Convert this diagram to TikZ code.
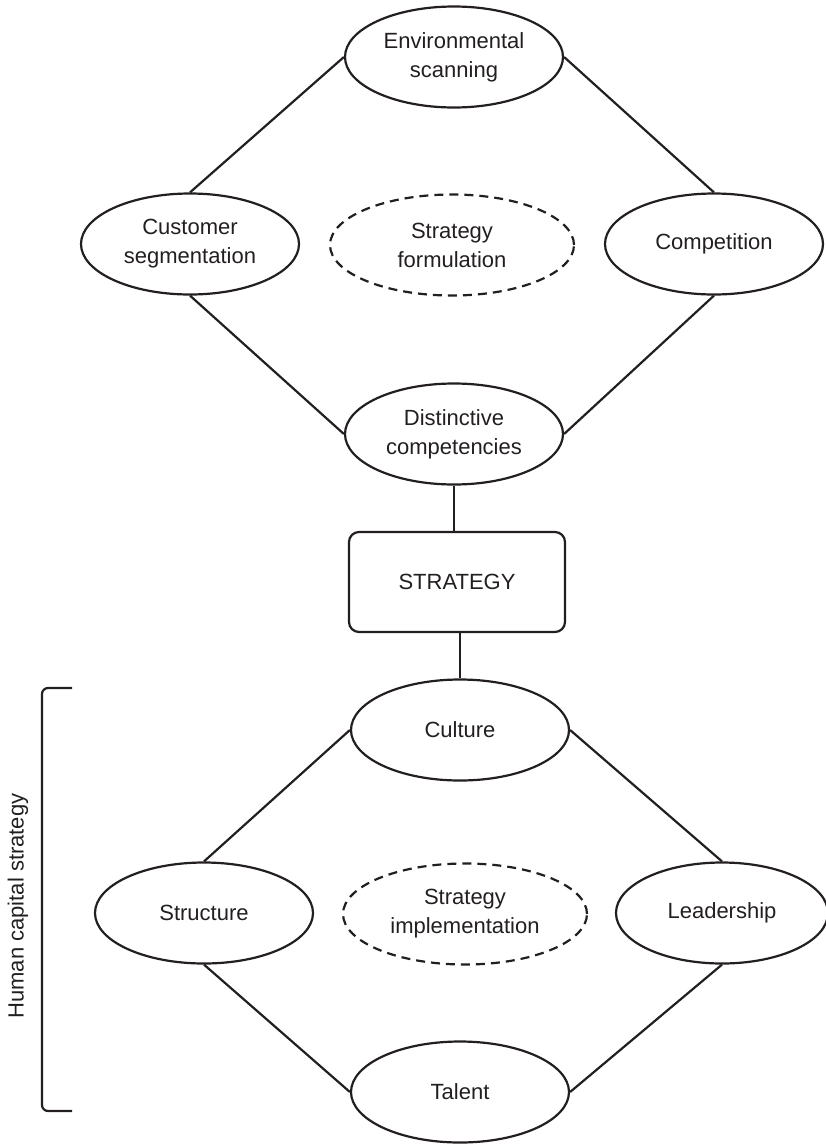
\documentclass[tikz,border=0pt]{standalone}
\usepackage{fontspec}
\setmainfont{Liberation Sans}
\usetikzlibrary{shapes.geometric}
\definecolor{ink}{HTML}{231F20}

\begin{document}
\begin{tikzpicture}[x=1pt, y=-1pt,
    every node/.style = {font=\fontsize{22}{29}\selectfont, align=center, text=ink},
    factor/.style = {draw=ink, ellipse, line width=2.2pt, minimum width=218pt, minimum height=101pt, inner sep=0pt},
    phase/.style = {draw=ink, ellipse, dash pattern=on 9pt off 6pt, line width=2.2pt, minimum width=244pt, minimum height=101pt, inner sep=0pt},
    link/.style = {draw=ink, line width=2.2pt}]
  \useasboundingbox (0,0) rectangle (826,1144);

  % Define vertices
  \node [factor] (env_scan) at (454,57) {Environmental\\scanning};
  \node [factor] (cust_seg) at (190,244) {Customer\\segmentation};
  \node [phase] (strat_form) at (452,245) {Strategy\\formulation};
  \node [factor] (comp) at (714,244) {Competition};
  \node [factor] (dist_comp) at (454,434) {Distinctive\\competencies};

  \node [draw=ink, line width=2.2pt, rounded corners=10pt, minimum width=216pt, minimum height=100pt] (strategy) at (457,582) {STRATEGY};

  \node [factor] (culture) at (460,730) {Culture};
  \node [factor] (structure) at (204,913) {Structure};
  \node [phase] (strat_impl) at (465,914) {Strategy\\implementation};
  \node [factor, minimum width=212pt] (leadership) at (722,913) {Leadership};
  \node [factor] (talent) at (460,1092) {Talent};

  % Human capital bracket
  \coordinate (hc_top) at (72,688);
  \coordinate (hc_bot) at (72,1111);
  \draw [link, rounded corners=6pt] (hc_top) -- (42,688) -- (42,1111) -- (hc_bot);
  \node [rotate=90] (hc_label) at (18,906) {Human capital strategy};

  % Draw edges
  \draw [link] (env_scan.west) -- (cust_seg.north);
  \draw [link] (env_scan.east) -- (comp.north);
  \draw [link] (cust_seg.south) -- (dist_comp.west);
  \draw [link] (comp.south) -- (dist_comp.east);
  \draw [link] (dist_comp.south) -- (dist_comp.south |- strategy.north);
  \draw [link] (strategy.south -| culture.north) -- (culture.north);
  \draw [link] (culture.west) -- (structure.north);
  \draw [link] (culture.east) -- (leadership.north);
  \draw [link] (structure.south) -- (talent.west);
  \draw [link] (leadership.south) -- (talent.east);
\end{tikzpicture}
\end{document}
